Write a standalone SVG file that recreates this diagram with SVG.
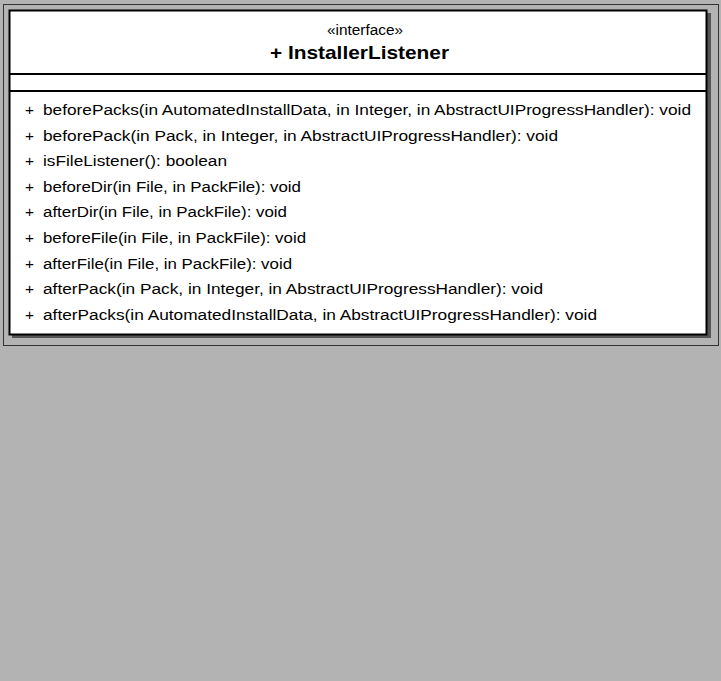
<svg xmlns="http://www.w3.org/2000/svg" width="721" height="681" viewBox="0 0 721 681">
<style>
.op{font-family:"Liberation Sans",Arial,sans-serif;font-size:15.5px;fill:#000}
.st{font-family:"Liberation Sans",Arial,sans-serif;font-size:14px;fill:#000}
.ti{font-family:"Liberation Sans",Arial,sans-serif;font-size:18.5px;font-weight:bold;fill:#000}
.sep{stroke:#000;stroke-width:2}
</style>
<rect x="0" y="0" width="721" height="681" fill="#b3b3b3"/>
<rect x="3.5" y="4.5" width="715" height="341" fill="none" stroke="#333" stroke-width="1"/>
<g id="InstallerListener">
<rect x="12" y="13" width="699" height="325" fill="#555"/>
<rect x="9.5" y="10.5" width="697" height="324" fill="#fff" stroke="#000" stroke-width="2"/>
<text class="st" x="327" y="35" textLength="76" lengthAdjust="spacingAndGlyphs">«interface»</text>
<text class="ti" x="270" y="59" textLength="179" lengthAdjust="spacingAndGlyphs">+ InstallerListener</text>
<line class="sep" x1="9" y1="74" x2="707" y2="74"/>
<line class="sep" x1="9" y1="91" x2="707" y2="91"/>
<g class="op">
<text x="25" y="115">+</text><text x="43" y="115" textLength="648" lengthAdjust="spacingAndGlyphs">beforePacks(in AutomatedInstallData, in Integer, in AbstractUIProgressHandler): void</text>
<text x="25" y="141">+</text><text x="43" y="141" textLength="515" lengthAdjust="spacingAndGlyphs">beforePack(in Pack, in Integer, in AbstractUIProgressHandler): void</text>
<text x="25" y="166">+</text><text x="43" y="166" textLength="184" lengthAdjust="spacingAndGlyphs">isFileListener(): boolean</text>
<text x="25" y="192">+</text><text x="43" y="192" textLength="258" lengthAdjust="spacingAndGlyphs">beforeDir(in File, in PackFile): void</text>
<text x="25" y="217">+</text><text x="43" y="217" textLength="244" lengthAdjust="spacingAndGlyphs">afterDir(in File, in PackFile): void</text>
<text x="25" y="243">+</text><text x="43" y="243" textLength="263" lengthAdjust="spacingAndGlyphs">beforeFile(in File, in PackFile): void</text>
<text x="25" y="269">+</text><text x="43" y="269" textLength="249" lengthAdjust="spacingAndGlyphs">afterFile(in File, in PackFile): void</text>
<text x="25" y="294">+</text><text x="43" y="294" textLength="500" lengthAdjust="spacingAndGlyphs">afterPack(in Pack, in Integer, in AbstractUIProgressHandler): void</text>
<text x="25" y="320">+</text><text x="43" y="320" textLength="554" lengthAdjust="spacingAndGlyphs">afterPacks(in AutomatedInstallData, in AbstractUIProgressHandler): void</text>
</g>
</g>
</svg>
